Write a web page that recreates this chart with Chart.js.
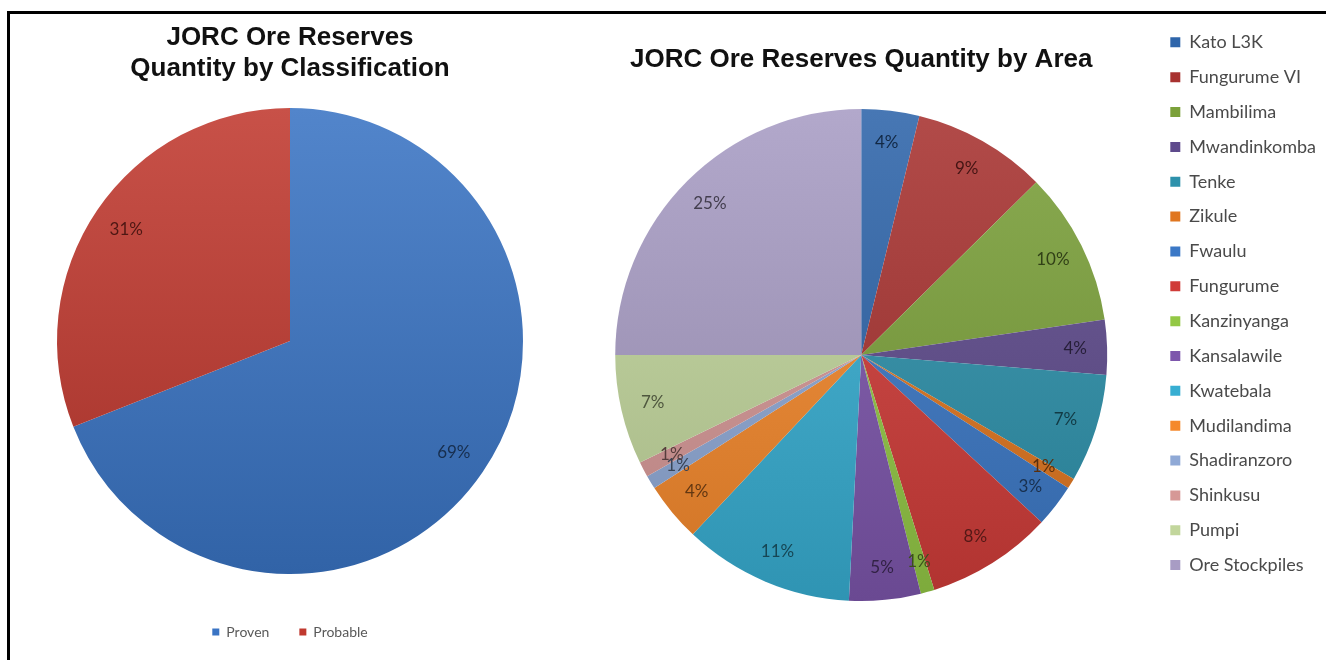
<!DOCTYPE html>
<html>
<head>
<meta charset="utf-8">
<script src="https://cdn.jsdelivr.net/npm/chart.js@4.4.1/dist/chart.umd.min.js"></script>
<style>
  html, body { margin: 0; padding: 0; background: #fff; }
  body { width: 1326px; height: 660px; position: relative; overflow: hidden; }
  .frame { position: absolute; left: 7px; top: 11px; width: 1400px; height: 700px; border-top: 3px solid #000; border-left: 3px solid #000; }
  #classChart { position: absolute; left: 10px; top: 14px; }
  #areaChart { position: absolute; left: 569px; top: 14px; }
</style>
</head>
<body>
<div class="frame"></div>
<canvas id="classChart" width="550" height="646"></canvas>
<canvas id="areaChart" width="757" height="646"></canvas>
<script>
const classLabels = ["Proven", "Probable"];
const classValues = [69, 31];

const areaLabels = [
  "Kato L3K", "Fungurume VI", "Mambilima", "Mwandinkomba", "Tenke", "Zikule",
  "Fwaulu", "Fungurume", "Kanzinyanga", "Kansalawile", "Kwatebala",
  "Mudilandima", "Shadiranzoro", "Shinkusu", "Pumpi", "Ore Stockpiles",
];
const areaValues = [3.8, 8.8, 10.1, 3.6, 7.1, 0.7, 2.8, 8.3, 0.9, 4.7, 11.2, 3.9, 0.9, 1.0, 7.2, 25.0];

const classColors = ["#3a74c4", "#c0392f"];
const areaColors = [
  "#2e65aa", "#a83230", "#7ba13a", "#5e4a8c", "#2d91ab", "#e0761f",
  "#3b78c6", "#d03c38", "#93c845", "#7d56ac", "#37aed2",
  "#f5892c", "#8fa9d6", "#d69896", "#c2d69c", "#a89cc4",
];

// blend a hex colour towards white (255) or black (0)
function mix(hex, target, t) {
  const n = parseInt(hex.slice(1), 16);
  const r = (n >> 16) & 255, g = (n >> 8) & 255, b = n & 255;
  const m = (c) => Math.round(c + (target - c) * t);
  return `rgb(${m(r)}, ${m(g)}, ${m(b)})`;
}

// light at the top of the pie, darker at the bottom
function sliceFill(colors) {
  return (c) => {
    const base = colors[c.dataIndex];
    const area = c.chart.chartArea;
    if (!area) return base;
    const r = Math.min(area.width, area.height) / 2;
    const cy = (area.top + area.bottom) / 2;
    const g = c.chart.ctx.createLinearGradient(0, cy - r, 0, cy + r);
    g.addColorStop(0, mix(base, 255, 0.12));
    g.addColorStop(1, mix(base, 0, 0.15));
    return g;
  };
}

function legendLabels(colors) {
  return (chart) => {
    const items = Chart.overrides.pie.plugins.legend.labels.generateLabels(chart);
    items.forEach((it, i) => {
      it.fillStyle = colors[i];
      it.strokeStyle = colors[i];
      it.lineWidth = 0;
    });
    return items;
  };
}

// percentage text inside each slice
const sliceLabels = {
  id: "sliceLabels",
  afterDatasetsDraw(chart, args, opts) {
    const ctx = chart.ctx;
    const meta = chart.getDatasetMeta(0);
    const values = chart.data.datasets[0].data;
    const total = values.reduce((a, b) => a + b, 0);
    ctx.save();
    ctx.font = opts.font;
    ctx.textAlign = "center";
    ctx.textBaseline = "middle";
    meta.data.forEach((arc, i) => {
      const p = arc.getProps(["x", "y", "startAngle", "endAngle", "outerRadius"], true);
      const mid = (p.startAngle + p.endAngle) / 2;
      const d = p.outerRadius * opts.radius;
      ctx.fillStyle = mix(opts.colors[i], 0, 0.6);
      ctx.fillText(Math.round(values[i] / total * 100) + "%", p.x + Math.cos(mid) * d, p.y + Math.sin(mid) * d);
    });
    ctx.restore();
  },
};

const titleFont = { family: "'Liberation Sans', Arial, sans-serif", size: 26, weight: "bold", lineHeight: 1.17 };

new Chart(document.getElementById("classChart"), {
  type: "pie",
  data: {
    labels: classLabels,
    datasets: [{ data: classValues, backgroundColor: sliceFill(classColors), borderWidth: 0, hoverOffset: 0 }],
  },
  options: {
    responsive: false,
    animation: false,
    layout: { padding: { left: 47, right: 37, top: 0, bottom: 11 } },
    plugins: {
      title: {
        display: true,
        text: ["JORC Ore Reserves", "Quantity by Classification"],
        font: titleFont,
        color: "#111",
        padding: { top: 8.8, bottom: 3.4 },
      },
      legend: {
        position: "bottom",
        labels: {
          boxWidth: 7,
          boxHeight: 7,
          padding: 30,
          color: "#595959",
          font: { family: "Lato", size: 14 },
          generateLabels: legendLabels(classColors),
        },
      },
      tooltip: { enabled: false },
      sliceLabels: { radius: 0.85, font: "17px Lato", colors: classColors },
    },
  },
  plugins: [sliceLabels],
});

new Chart(document.getElementById("areaChart"), {
  type: "pie",
  data: {
    labels: areaLabels,
    datasets: [{ data: areaValues, backgroundColor: sliceFill(areaColors), borderWidth: 0, hoverOffset: 0 }],
  },
  options: {
    responsive: false,
    animation: false,
    layout: { padding: { left: 0, right: 0, top: 2.5, bottom: 59 } },
    plugins: {
      title: {
        display: true,
        fullSize: false,
        text: "JORC Ore Reserves Quantity by Area",
        font: { ...titleFont, lineHeight: 1.2 },
        color: "#111",
        padding: { top: 27.9, bottom: 33.4 },
      },
      legend: {
        position: "right",
        align: "start",
        maxWidth: 175,
        labels: {
          boxWidth: 10,
          boxHeight: 10,
          padding: 16.85,
          color: "#4a4a4a",
          font: { family: "Lato", size: 18 },
          generateLabels: legendLabels(areaColors),
        },
      },
      tooltip: { enabled: false },
      sliceLabels: { radius: 0.87, font: "17px Lato", colors: areaColors },
    },
  },
  plugins: [sliceLabels],
});
</script>
</body>
</html>
